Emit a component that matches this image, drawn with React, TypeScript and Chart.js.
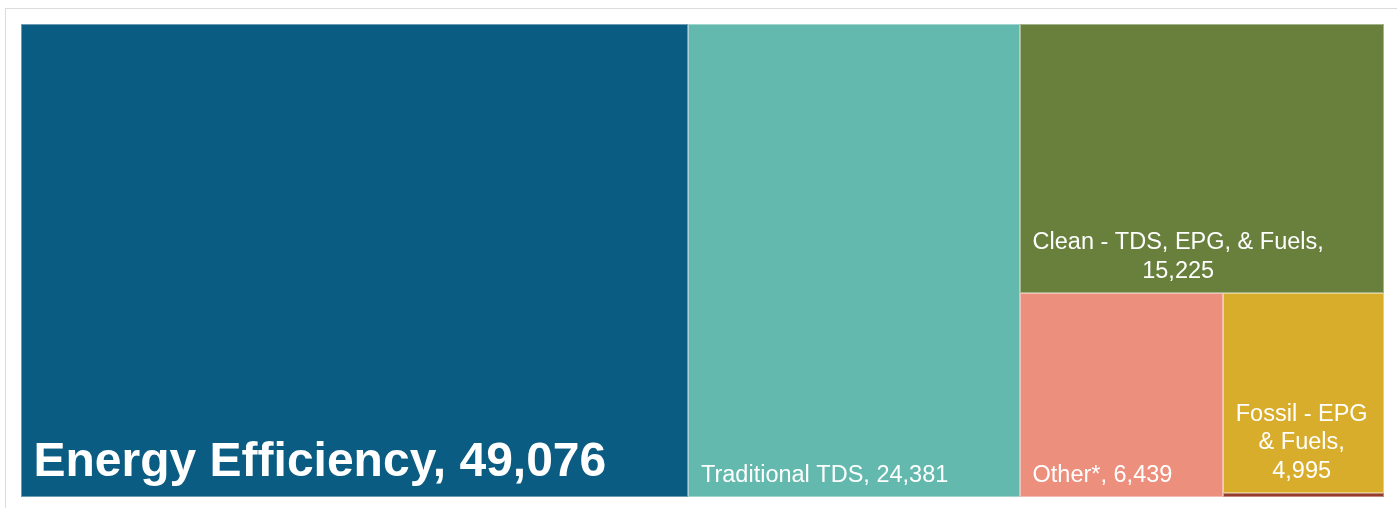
import React, { useEffect, useRef } from "react";
import { Chart, registerables } from "chart.js";

Chart.register(...registerables);

// ---- data ----
const categories = [
  "Energy Efficiency",
  "Traditional TDS",
  "Clean - TDS, EPG, & Fuels",
  "Other*",
  "Fossil - EPG & Fuels",
  "Unlabeled",
];
const values = [49076, 24381, 15225, 6439, 4995, 100];
const colors = ["#0b5c82", "#64b9ae", "#69803d", "#ec8f7c", "#d8ad2b", "#953b2c"];
const showLabels = [true, true, true, true, true, false];

type Rect = { x: number; y: number; w: number; h: number };

function worst(areas: number[], side: number) {
  const s = areas.reduce((a, b) => a + b, 0);
  const mx = Math.max(...areas);
  const mn = Math.min(...areas);
  return Math.max((side * side * mx) / (s * s), (s * s) / (side * side * mn));
}

function squarify(vals: number[], W: number, H: number): Rect[] {
  const total = vals.reduce((a, b) => a + b, 0);
  const items = vals
    .map((v, i) => ({ i, area: (v / total) * W * H }))
    .sort((a, b) => b.area - a.area);
  const out: Rect[] = new Array(vals.length);
  let x = 0, y = 0, w = W, h = H;
  let rest = items.slice();
  while (rest.length) {
    const side = Math.min(w, h);
    let row = [rest[0]];
    let k = 1;
    while (k < rest.length) {
      const cand = row.concat(rest[k]);
      if (worst(cand.map((a) => a.area), side) <= worst(row.map((a) => a.area), side)) {
        row = cand;
        k++;
      } else break;
    }
    rest = rest.slice(k);
    const s = row.reduce((a, b) => a + b.area, 0);
    if (w >= h) {
      const sw = s / h;
      let cy = y;
      for (const r of row) {
        const rh = r.area / sw;
        out[r.i] = { x, y: cy, w: sw, h: rh };
        cy += rh;
      }
      x += sw;
      w -= sw;
    } else {
      const sh = s / w;
      let cx = x;
      for (const r of row) {
        const rw = r.area / sh;
        out[r.i] = { x: cx, y, w: rw, h: sh };
        cx += rw;
      }
      y += sh;
      h -= sh;
    }
  }
  return out;
}

function wrap(ctx: CanvasRenderingContext2D, text: string, maxW: number): string[] {
  const words = text.split(" ");
  const lines: string[] = [];
  let cur = "";
  for (const wd of words) {
    const t = cur ? cur + " " + wd : wd;
    if (ctx.measureText(t).width <= maxW || !cur) cur = t;
    else {
      lines.push(cur);
      cur = wd;
    }
  }
  if (cur) lines.push(cur);
  return lines;
}

const treemapPlugin = {
  id: "treemapCells",
  afterDatasetsDraw(chart: any) {
    const { ctx, chartArea, scales } = chart;
    const W = chartArea.right - chartArea.left;
    const H = chartArea.bottom - chartArea.top;
    const rects = squarify(values, W, H);
    const xs = scales.x;
    const ys = scales.y;
    ctx.save();
    rects.forEach((r, i) => {
      const x0 = xs.getPixelForValue(r.x / W);
      const x1 = xs.getPixelForValue((r.x + r.w) / W);
      const y0 = ys.getPixelForValue(r.y / H);
      const y1 = ys.getPixelForValue((r.y + r.h) / H);
      ctx.fillStyle = colors[i];
      ctx.fillRect(x0, y0, x1 - x0, y1 - y0);
      ctx.strokeStyle = "rgba(255,255,255,0.4)";
      ctx.lineWidth = 1;
      ctx.strokeRect(Math.round(x0) + 0.5, Math.round(y0) + 0.5, Math.round(x1 - x0) - 1, Math.round(y1 - y0) - 1);
    });
    rects.forEach((r, i) => {
      if (!showLabels[i]) return;
      const x0 = xs.getPixelForValue(r.x / W);
      const x1 = xs.getPixelForValue((r.x + r.w) / W);
      const y1 = ys.getPixelForValue((r.y + r.h) / H);
      const big = i === 0;
      const fs = big ? 48 : 23.5;
      ctx.font = `${big ? "bold " : ""}${fs}px "Liberation Sans", Arial, sans-serif`;
      const pad = 12.5;
      const text = `${categories[i]}, ${values[i].toLocaleString("en-US")}`;
      const lines = wrap(ctx, text, x1 - x0 - 2 * pad);
      const blockW = Math.max(...lines.map((l) => ctx.measureText(l).width));
      const cx = x0 + pad + blockW / 2;
      const lh = fs * 1.2;
      const lastBase = y1 - 10.5 - 0.212 * fs;
      ctx.fillStyle = "#ffffff";
      ctx.textAlign = "center";
      ctx.textBaseline = "alphabetic";
      lines.forEach((l, k) => {
        ctx.fillText(l, cx, lastBase - (lines.length - 1 - k) * lh);
      });
    });
    ctx.restore();
  },
};

export default function App() {
  const ref = useRef<HTMLCanvasElement | null>(null);
  useEffect(() => {
    if (!ref.current) return;
    const chart = new Chart(ref.current, {
      type: "scatter",
      data: { datasets: [{ label: "cells", data: [] }] },
      options: {
        animation: false,
        responsive: false,
        maintainAspectRatio: false,
        layout: { padding: 0 },
        plugins: { legend: { display: false }, tooltip: { enabled: false } },
        scales: {
          x: { type: "linear", min: 0, max: 1, display: false },
          y: { type: "linear", min: 0, max: 1, reverse: true, display: false },
        },
      },
      plugins: [treemapPlugin],
    });
    return () => chart.destroy();
  }, []);
  return (
    <div>
      <div
        style={{
          position: "fixed",
          left: 5,
          top: 8,
          width: 2000,
          height: 1000,
          borderTop: "1px solid #dcdcdc",
          borderLeft: "1px solid #dcdcdc",
          background: "#fff",
        }}
      />
      <canvas
        ref={ref}
        width={1363}
        height={473}
        style={{ position: "fixed", left: 21, top: 24, width: 1363, height: 473 }}
      />
    </div>
  );
}
